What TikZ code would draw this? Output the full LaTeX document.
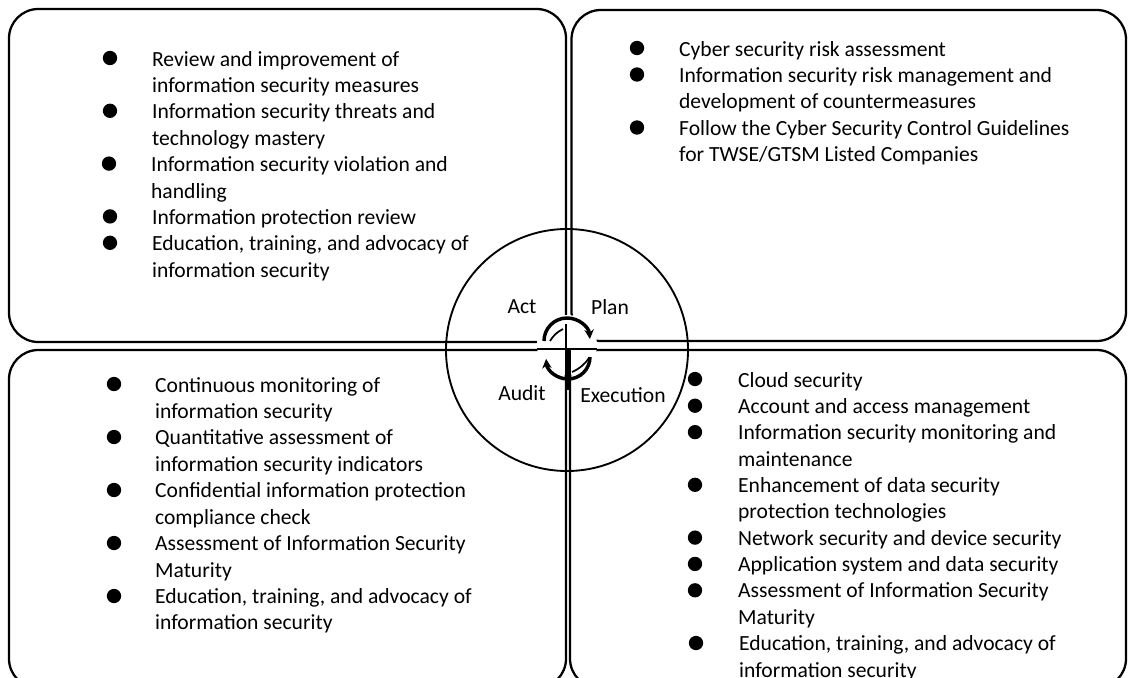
\documentclass[tikz,border=0pt]{standalone}
\usepackage{fontspec}
\setmainfont{Carlito}
\usetikzlibrary{arrows.meta}

\begin{document}
\begin{tikzpicture}[x = 0.75pt, y = -0.75pt, line width = 1.7pt,
        font = {\fontsize{16.2}{19.8}\selectfont},
        item/.style = {anchor = north west, inner sep = 0pt, align = left},
        phase/.style = {inner sep = 0pt},
        dot/.style = {fill = black}]

        \useasboundingbox (0,0) rectangle (1128,678);

        % four quarters
        \draw [rounded corners = 22pt] (9,9) rectangle (566,342);
        \draw [rounded corners = 22pt] (571.5,10) rectangle (1126,341);
        \draw [rounded corners = 22pt] (9,350) rectangle (566,688);
        \draw [rounded corners = 22pt] (570,350) rectangle (1126,688);

        % cycle in the middle
        \draw [line width = 1.4pt] (567,350) circle [radius = 90.75pt];
        \fill [white] (567,345) circle [radius = 22.5pt];
        \draw [line width = 2.2pt] (537,349) -- (597,349);
        \draw [line width = 1.3pt] (566,324) -- (566,349);
        \draw [line width = 4pt] (568,349) -- (568,390);

        \draw [line width = 2.6pt, -{Stealth[length = 7pt, width = 7pt]}]
        (544,341) arc [start angle = 180, end angle = 5, radius = 17.25pt];
        \draw [line width = 2.6pt, -{Stealth[length = 7pt, width = 7pt]}]
        (590,357) arc [start angle = 0, end angle = -175, radius = 16.5pt];
        \draw [line width = 1.3pt] (550,341) to [bend left = 15] (563,329);
        \draw [line width = 1.3pt] (572,372) to [bend right = 15] (589,358);

        \node [phase] (act) at (522,307) {Act};
        \node [phase] (plan) at (610,307) {Plan};
        \node [phase] (audit) at (522,393) {Audit};
        \node [phase] (execution) at (623,395) {Execution};

        % act
        \node [item] (act-1) at (151,46.4) {\strut Review and improvement of\\information security measures};
        \node [item] (act-2) at (151,99.2) {\strut Information security threats and\\technology mastery};
        \node [item] (act-3) at (150,152) {\strut Information security violation and\\handling};
        \node [item] (act-4) at (151,204.8) {\strut Information protection review};
        \node [item] (act-5) at (151,231.2) {\strut Education, training, and advocacy of\\information security};
        \draw [dot] (110,58) circle (4.5pt);
        \draw [dot] (110,110.8) circle (4.5pt);
        \draw [dot] (109,163.6) circle (4.5pt);
        \draw [dot] (110,216.4) circle (4.5pt);
        \draw [dot] (110,242.8) circle (4.5pt);

        % plan
        \node [item] (plan-1) at (678,36.4) {\strut Cyber security risk assessment};
        \node [item] (plan-2) at (678,62.9) {\strut Information security risk management and\\development of countermeasures};
        \node [item] (plan-3) at (678,115.9) {\strut Follow the Cyber Security Control Guidelines\\for TWSE/GTSM Listed Companies};
        \draw [dot] (637,48) circle (4.5pt);
        \draw [dot] (637,74.5) circle (4.5pt);
        \draw [dot] (637,127.5) circle (4.5pt);

        % audit
        \node [item] (audit-1) at (154,372.4) {\strut Continuous monitoring of\\information security};
        \node [item] (audit-2) at (154,425.3) {\strut Quantitative assessment of\\information security indicators};
        \node [item] (audit-3) at (154,478.2) {\strut Confidential information protection\\compliance check};
        \node [item] (audit-4) at (154,531) {\strut Assessment of Information Security\\Maturity};
        \node [item] (audit-5) at (154,583.9) {\strut Education, training, and advocacy of\\information security};
        \draw [dot] (114,384) circle (4.5pt);
        \draw [dot] (114,437) circle (4.5pt);
        \draw [dot] (114,490) circle (4.5pt);
        \draw [dot] (114,543) circle (4.5pt);
        \draw [dot] (114,596) circle (4.5pt);

        % execution
        \node [item] (execution-1) at (737,367.4) {\strut Cloud security};
        \node [item] (execution-2) at (737,393.8) {\strut Account and access management};
        \node [item] (execution-3) at (737,420.1) {\strut Information security monitoring and\\maintenance};
        \node [item] (execution-4) at (737,472.8) {\strut Enhancement of data security\\protection technologies};
        \node [item] (execution-5) at (737,525.6) {\strut Network security and device security};
        \node [item] (execution-6) at (737,551.9) {\strut Application system and data security};
        \node [item] (execution-7) at (737,578.3) {\strut Assessment of Information Security\\Maturity};
        \node [item] (execution-8) at (738,631) {\strut Education, training, and advocacy of\\information security};
        \draw [dot] (695,379) circle (4.5pt);
        \draw [dot] (695,405.7) circle (4.5pt);
        \draw [dot] (695,432.1) circle (4.5pt);
        \draw [dot] (695,484.8) circle (4.5pt);
        \draw [dot] (695,537.6) circle (4.5pt);
        \draw [dot] (695,563.9) circle (4.5pt);
        \draw [dot] (695,590.3) circle (4.5pt);
        \draw [dot] (696,643) circle (4.5pt);
    \end{tikzpicture}
\end{document}
